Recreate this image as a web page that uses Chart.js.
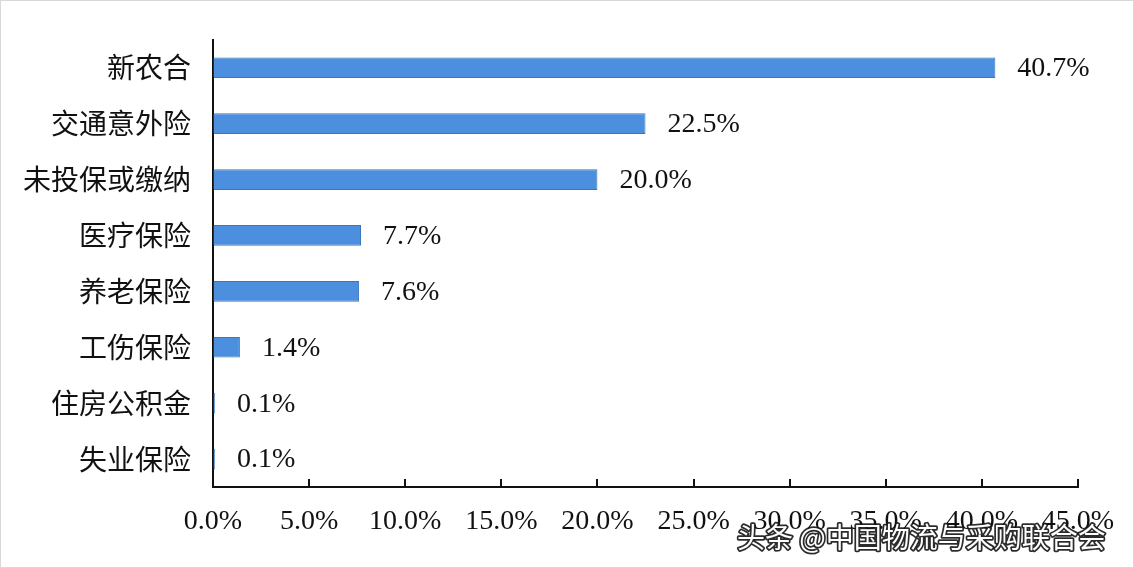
<!DOCTYPE html>
<html>
<head>
<meta charset="utf-8">
<script src="https://cdn.jsdelivr.net/npm/chart.js@4"></script>
<style>
  html, body { margin: 0; padding: 0; background: #fff; }
  #wrap { width: 1134px; height: 568px; position: relative; box-sizing: border-box; border: 1px solid #d8d8d8; }
</style>
</head>
<body>
<div id="wrap"><canvas id="myChart" width="1132" height="566"></canvas></div>
<script>
// 数据
const categories = ['新农合', '交通意外险', '未投保或缴纳', '医疗保险', '养老保险', '工伤保险', '住房公积金', '失业保险'];
const shares = [40.7, 22.5, 20.0, 7.7, 7.6, 1.4, 0.1, 0.1];
const xTicks = [0, 5, 10, 15, 20, 25, 30, 35, 40, 45];
const watermark = '头条 @中国物流与采购联合会';

const serif = '"Liberation Serif", "Times New Roman", serif';
const cjk = '"Noto Sans CJK SC", sans-serif';

// 柱末标签 + 内侧刻度 + 水印
const extras = {
    id: 'extras',
    afterDatasetsDraw(chart) {
        const c = chart.ctx;
        const meta = chart.getDatasetMeta(0);
        c.save();
        c.font = '28px ' + serif;
        c.fillStyle = '#111';
        c.textBaseline = 'middle';
        meta.data.forEach((bar, i) => {
            c.fillText(shares[i].toFixed(1) + '%', bar.x + 22, bar.y + 1);
        });
        // 刻度线朝上
        const xs = chart.scales.x;
        c.strokeStyle = '#111';
        c.lineWidth = 2;
        xTicks.forEach(v => {
            const px = Math.round(xs.getPixelForValue(v));
            c.beginPath();
            c.moveTo(px, xs.top);
            c.lineTo(px, xs.top - 8);
            c.stroke();
        });
        c.restore();
    },
    afterDraw(chart) {
        const c = chart.ctx;
        c.save();
        c.font = '28px ' + cjk;
        c.textBaseline = 'middle';
        c.lineWidth = 3.5;
        c.lineJoin = 'round';
        c.strokeStyle = 'rgba(20,20,20,0.9)';
        c.strokeText(watermark, 736, 536);
        c.fillStyle = '#fff';
        c.fillText(watermark, 736, 536);
        c.restore();
    }
};

const ctx = document.getElementById('myChart');

const myChart = new Chart(ctx, {
    type: 'bar',
    data: {
        labels: categories,
        datasets: [{
            data: shares,
            backgroundColor: '#4b8fde',
            borderColor: '#3a76bf',
            borderWidth: 1,
            barPercentage: 0.37,
            categoryPercentage: 1
        }]
    },
    options: {
        indexAxis: 'y',
        responsive: false,
        animation: false,
        layout: { padding: { left: 0, right: 55, top: 35, bottom: 0 } },
        plugins: {
            legend: { display: false },
            tooltip: { enabled: false }
        },
        scales: {
            x: {
                min: 0,
                max: 45,
                afterFit(scale) { scale.height = 80; },
                afterBuildTicks(scale) { scale.ticks = xTicks.map(v => ({ value: v })); },
                grid: { display: true, drawOnChartArea: false, drawTicks: false },
                border: { display: true, color: '#111', width: 2 },
                ticks: {
                    padding: 18,
                    color: '#111',
                    font: { family: serif, size: 28 },
                    callback: v => v.toFixed(1) + '%'
                }
            },
            y: {
                afterFit(scale) { scale.width = 212; },
                grid: { display: true, drawOnChartArea: false, drawTicks: false },
                border: { display: true, color: '#111', width: 2 },
                ticks: {
                    padding: 22,
                    color: '#111',
                    font: { family: cjk, size: 28 }
                }
            }
        }
    },
    plugins: [extras]
});
</script>
</body>
</html>
